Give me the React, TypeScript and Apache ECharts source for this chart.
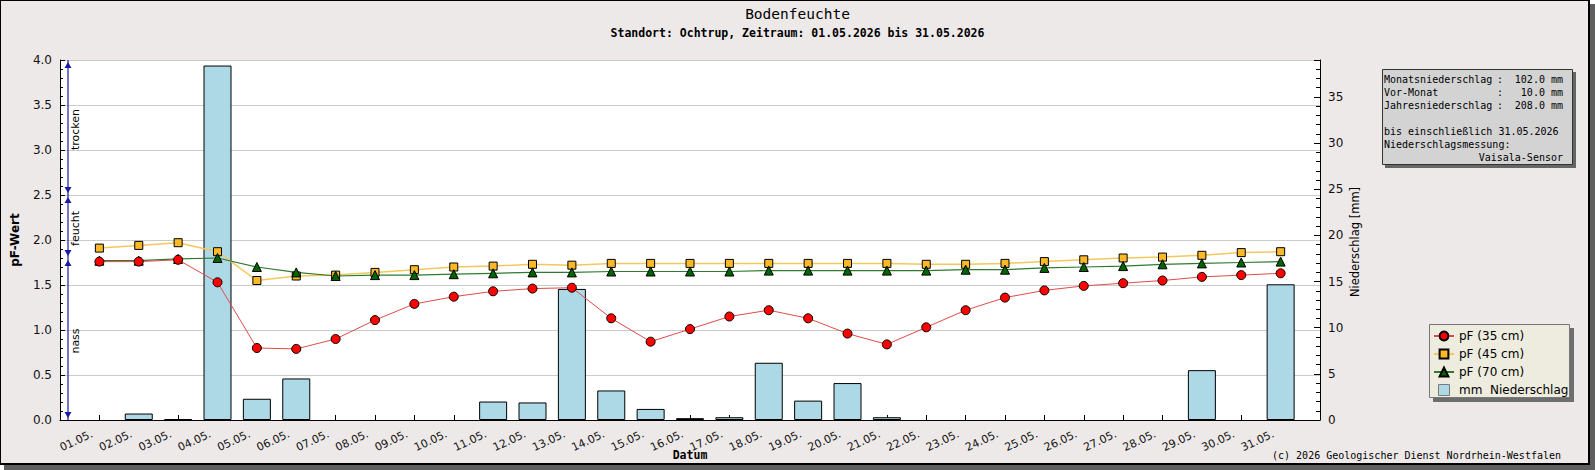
import React, { useEffect, useRef } from "react";
import * as echarts from "echarts";

const days = [
  "01.05.", "02.05.", "03.05.", "04.05.", "05.05.", "06.05.", "07.05.", "08.05.",
  "09.05.", "10.05.", "11.05.", "12.05.", "13.05.", "14.05.", "15.05.", "16.05.",
  "17.05.", "18.05.", "19.05.", "20.05.", "21.05.", "22.05.", "23.05.", "24.05.",
  "25.05.", "26.05.", "27.05.", "28.05.", "29.05.", "30.05.", "31.05.",
];

const pf35 = [1.76, 1.76, 1.78, 1.53, 0.8, 0.79, 0.9, 1.11, 1.29, 1.37, 1.43, 1.46, 1.47, 1.13, 0.87, 1.01,
  1.15, 1.22, 1.13, 0.96, 0.84, 1.03, 1.22, 1.36, 1.44, 1.49, 1.52, 1.55, 1.59, 1.61, 1.63];
const pf45 = [1.91, 1.94, 1.97, 1.87, 1.55, 1.6, 1.61, 1.64, 1.67, 1.7, 1.71, 1.73, 1.72, 1.74, 1.74, 1.74,
  1.74, 1.74, 1.74, 1.74, 1.74, 1.73, 1.73, 1.74, 1.76, 1.78, 1.8, 1.81, 1.83, 1.86, 1.87];
const pf70 = [1.77, 1.77, 1.79, 1.8, 1.7, 1.64, 1.6, 1.61, 1.61, 1.62, 1.63, 1.64, 1.64, 1.65, 1.65, 1.65,
  1.65, 1.66, 1.66, 1.66, 1.66, 1.66, 1.67, 1.67, 1.69, 1.7, 1.71, 1.73, 1.74, 1.75, 1.76];
const rain = [null, 0.7, 0.1, 38.4, 2.3, 4.5, null, null, null, null, 2.0, 1.9, 14.2, 3.2, 1.2, 0.2,
  0.3, 6.2, 2.1, 4.0, 0.3, null, null, null, null, null, null, null, 5.4, null, 14.7];

const zoneBounds = [4.0, 2.5, 1.8, 0.0];
const zoneLabels = ["trocken", "feucht", "nass"];

const seriesNames = ["pF (35 cm)", "pF (45 cm)", "pF (70 cm)", "mm \u00a0Niederschlag"];
const axisTitles = ["Datum", "pF-Wert", "Niederschlag [mm]"];

const infoRows = [
  ["Monatsniederschlag", "102.0 mm"],
  ["Vor-Monat", "10.0 mm"],
  ["Jahresniederschlag", "208.0 mm"],
];

const pad = (arr: (number | null)[]) => [null, ...arr, null];

const MONO = '"DejaVu Sans Mono", monospace';
const SANS = '"DejaVu Sans", sans-serif';

export default function App() {
  const ref = useRef<HTMLDivElement>(null);

  useEffect(() => {
    document.body.style.margin = "0";
    if (!ref.current) return;
    const chart = echarts.init(ref.current, null, { renderer: "svg" });

    const cats = ["", ...days, ""];
    const zoneData = zoneLabels.map((_, i) => [0, zoneBounds[i], zoneBounds[i + 1]]);
    const arrowColor = "#1c1c9c";
    const cx = 797.5;

    const txt = (x: number, y: number, text: string, font: string, align = "left", extra: any = {}) => ({
      type: "text", z: 2, x, y, ...extra,
      style: { text, font, fill: "#000", align, verticalAlign: "middle" },
    });

    const graphic: any[] = [
      { type: "rect", z: -3, shape: { x: 4, y: 4, width: 1591, height: 466 }, style: { fill: "#5f5f5f" } },
      { type: "rect", z: -2, shape: { x: 0, y: 0, width: 1590, height: 465 }, style: { fill: "#000" } },
      { type: "rect", z: -1, shape: { x: 1, y: 1, width: 1587, height: 462 }, style: { fill: "#eee9e9" } },
      txt(cx, 14, "Bodenfeuchte", `14.5px ${MONO}`, "center"),
      txt(cx, 33, "Standort: Ochtrup, Zeitraum: 01.05.2026 bis 31.05.2026", `bold 11.5px ${MONO}`, "center"),
      // axis titles
      txt(690, 455, axisTitles[0], `bold 11.5px ${MONO}`, "center"),
      txt(15, 240, axisTitles[1], `bold 12px ${SANS}`, "center", { rotation: Math.PI / 2 }),
      txt(1355, 242, axisTitles[2], `11.5px ${SANS}`, "center", { rotation: Math.PI / 2 }),
      // info box
      { type: "rect", z: 1, shape: { x: 1385, y: 72, width: 191, height: 96 }, style: { fill: "#666" } },
      { type: "rect", z: 1, shape: { x: 1382.5, y: 69.5, width: 190, height: 95 }, style: { fill: "#d3d3d3", stroke: "#333", lineWidth: 1 } },
      // legend box
      { type: "rect", z: 1, shape: { x: 1433, y: 328, width: 141, height: 74 }, style: { fill: "#6e6e6e" } },
      { type: "rect", z: 1, shape: { x: 1429.5, y: 324.5, width: 140, height: 73 }, style: { fill: "#edecdf", stroke: "#777", lineWidth: 1 } },
      txt(1561, 455, "(c) 2026 Geologischer Dienst Nordrhein-Westfalen", `10px ${MONO}`, "right"),
    ];

    const infoY = [79, 92, 105];
    infoRows.forEach((row, i) => {
      graphic.push(txt(1384, infoY[i], row[0], `10px ${MONO}`));
      graphic.push(txt(1497, infoY[i], ":", `10px ${MONO}`));
      graphic.push(txt(1563, infoY[i], row[1], `10px ${MONO}`, "right"));
    });
    graphic.push(txt(1384, 131, "bis einschließlich 31.05.2026", `10px ${MONO}`));
    graphic.push(txt(1384, 144, "Niederschlagsmessung:", `10px ${MONO}`));
    graphic.push(txt(1563, 157, "Vaisala-Sensor", `10px ${MONO}`, "right"));

    const option: any = {
      animation: false,
      backgroundColor: "transparent",
      graphic,
      grid: {
        left: 60, right: 275, top: 60, bottom: 50, show: true, backgroundColor: "#fff", borderWidth: 0,
        containLabel: false, outerBoundsMode: "none",
      },
      legend: {
        orient: "vertical",
        left: 1433,
        top: 330,
        padding: 0,
        itemWidth: 20,
        itemHeight: 11,
        itemGap: 6,
        selectedMode: false,
        textStyle: { fontFamily: SANS, fontSize: 12, color: "#000", lineHeight: 11 },
        data: [
          seriesNames[0],
          seriesNames[1],
          seriesNames[2],
          { name: seriesNames[3], icon: "path://M0,0H10V10H0Z", itemStyle: { borderColor: "#7a7a7a", borderWidth: 1 } },
        ],
      },
      xAxis: {
        type: "category",
        data: cats,
        boundaryGap: false,
        axisLine: { lineStyle: { color: "#000", width: 1 } },
        axisTick: { inside: true, length: 5, interval: 0, lineStyle: { color: "#000" } },
        axisLabel: {
          interval: 0, rotate: 25, margin: 10, fontFamily: SANS, fontSize: 11, color: "#111",
          padding: [0, 8, 0, 0],
        },
        splitLine: { show: false },
      },
      yAxis: [
        {
          type: "value",
          min: 0,
          max: 4,
          interval: 0.5,
          axisLine: { show: true, lineStyle: { color: "#000" } },
          axisTick: { show: true, inside: true, length: 5, lineStyle: { color: "#000" } },
          minorTick: { show: true, splitNumber: 5, length: 3, lineStyle: { color: "#000" } },
          axisLabel: { formatter: (v: number) => v.toFixed(1), fontFamily: SANS, fontSize: 12, color: "#111", margin: 8 },
          splitLine: { show: true, lineStyle: { color: "#cccccc", width: 1 } },
        },
        {
          type: "value",
          min: 0,
          max: 39,
          interval: 5,
          position: "right",
          axisLine: { show: true, lineStyle: { color: "#000" } },
          axisTick: { show: true, inside: true, length: 6, lineStyle: { color: "#000" } },
          minorTick: { show: true, splitNumber: 5, length: 4, lineStyle: { color: "#000" } },
          axisLabel: { fontFamily: SANS, fontSize: 12, color: "#111", margin: 8, showMaxLabel: false },
          splitLine: { show: false },
        },
      ],
      series: [
        {
          name: seriesNames[3],
          type: "bar",
          yAxisIndex: 1,
          data: pad(rain),
          barWidth: 28,
          z: 1,
          itemStyle: { color: "#add8e6", borderColor: "#000", borderWidth: 1 },
        },
        {
          name: seriesNames[0],
          type: "line",
          data: pad(pf35),
          symbol: "circle",
          symbolSize: 9,
          z: 5,
          lineStyle: { color: "#e24a4a", width: 1 },
          itemStyle: { color: "#ff0000", borderColor: "#000", borderWidth: 1 },
        },
        {
          name: seriesNames[1],
          type: "line",
          data: pad(pf45),
          symbol: "rect",
          symbolSize: 8,
          z: 4,
          lineStyle: { color: "#f2c95a", width: 1.5 },
          itemStyle: { color: "#fbb829", borderColor: "#000", borderWidth: 1 },
        },
        {
          name: seriesNames[2],
          type: "line",
          data: pad(pf70),
          symbol: "triangle",
          symbolSize: 9,
          z: 4,
          lineStyle: { color: "#2f7a2f", width: 1.2 },
          itemStyle: { color: "#006400", borderColor: "#000", borderWidth: 1 },
        },
        {
          type: "custom",
          name: "zones",
          clip: false,
          z: 6,
          data: zoneData,
          encode: { x: 0, y: [1, 2] },
          renderItem: (params: any, api: any) => {
            const hi = api.value(1);
            const lo = api.value(2);
            const p1 = api.coord([0, hi]);
            const p2 = api.coord([0, lo]);
            const x = p1[0] + 8;
            const yt = p1[1] + 2;
            const yb = p2[1] - 2;
            return {
              type: "group",
              children: [
                { type: "line", shape: { x1: x, y1: p1[1], x2: x, y2: p2[1] }, style: { stroke: arrowColor, lineWidth: 1.2 } },
                { type: "polygon", shape: { points: [[x, yt], [x - 3.5, yt + 6], [x + 3.5, yt + 6]] }, style: { fill: arrowColor } },
                { type: "polygon", shape: { points: [[x, yb], [x - 3.5, yb - 6], [x + 3.5, yb - 6]] }, style: { fill: arrowColor } },
                {
                  type: "text",
                  x: x + 7,
                  y: (p1[1] + p2[1]) / 2 + 2,
                  rotation: Math.PI / 2,
                  style: {
                    text: zoneLabels[params.dataIndex],
                    font: `11px ${SANS}`,
                    fill: "#000",
                    align: "center",
                    verticalAlign: "middle",
                  },
                },
              ],
            };
          },
        },
      ],
    };

    chart.setOption(option);
    return () => chart.dispose();
  }, []);

  return <div ref={ref} style={{ width: 1595, height: 470 }} />;
}
